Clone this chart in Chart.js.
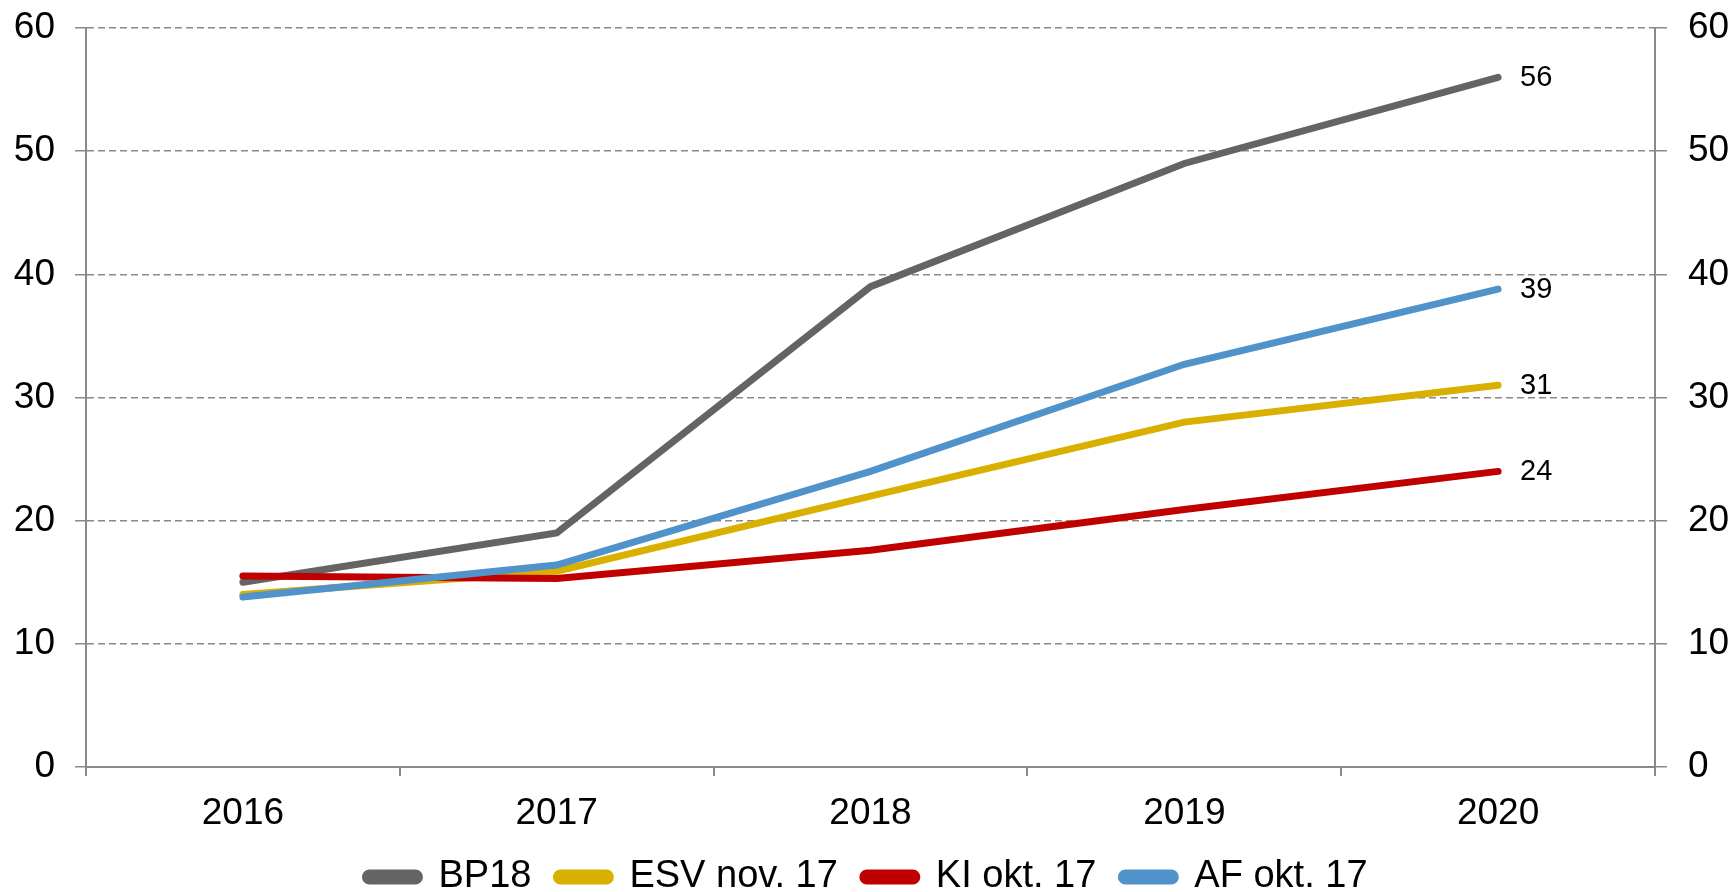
<!DOCTYPE html>
<html>
<head>
<meta charset="utf-8">
<script src="https://cdn.jsdelivr.net/npm/chart.js@4/dist/chart.umd.min.js"></script>
<style>
  body { margin: 0; background: #fff; }
</style>
</head>
<body>
<canvas id="chart-line" width="1733" height="892"></canvas>
<script>
// data
const years = ['2016', '2017', '2018', '2019', '2020'];
const bp18 = [15.0, 19.0, 39.0, 49.0, 56.0];
const esvNov17 = [14.0, 15.9, 22.0, 28.0, 31.0];
const kiOkt17 = [15.5, 15.3, 17.6, 20.9, 24.0];
const afOkt17 = [13.8, 16.4, 24.0, 32.7, 38.8];
const yTicks = [0, 10, 20, 30, 40, 50, 60];

const FONT = '"Liberation Sans", Arial, sans-serif';
const AXIS_GREY = '#898989';

function series(label, data, color, order) {
  return {
    label: label,
    data: data,
    borderColor: color,
    backgroundColor: color,
    borderWidth: 7,
    borderCapStyle: 'round',
    pointRadius: 0,
    tension: 0,
    fill: false,
    order: order,
  };
}

// value labels after the last point of each line
const endLabels = {
  id: 'endLabels',
  afterDatasetsDraw(chart) {
    const ctx = chart.ctx;
    ctx.save();
    ctx.font = '29px ' + FONT;
    ctx.fillStyle = '#000';
    ctx.textBaseline = 'middle';
    chart.data.datasets.forEach((ds, i) => {
      const meta = chart.getDatasetMeta(i);
      const pt = meta.data[meta.data.length - 1];
      ctx.fillText(String(Math.round(ds.data[ds.data.length - 1])), pt.x + 22, pt.y + 1);
    });
    ctx.restore();
  }
};

// y axes: fixed width, no extra room for the end labels
function fitY(width) {
  return function (scale) {
    scale.width = width;
    scale.paddingTop = 0;
    scale.paddingBottom = 0;
  };
}

const ctx = document.getElementById('chart-line').getContext('2d');
const chart = new Chart(ctx, {
  type: 'line',
  data: {
    labels: years,
    datasets: [
      series('BP18', bp18, '#646464', 3),
      series('ESV nov. 17', esvNov17, '#D9B000', 2),
      series('KI okt. 17', kiOkt17, '#C00000', 1),
      series('AF okt. 17', afOkt17, '#5093CA', 0),
    ],
  },
  plugins: [endLabels],
  options: {
    responsive: false,
    maintainAspectRatio: false,
    animation: false,
    layout: {
      padding: { top: 28, left: 0, right: 0, bottom: -14 },
    },
    plugins: {
      tooltip: { enabled: false },
      legend: {
        display: true,
        position: 'bottom',
        labels: {
          boxWidth: 54,
          boxHeight: 8,
          useBorderRadius: true,
          borderRadius: 4,
          padding: 25,
          color: '#000',
          font: { family: FONT, size: 38 },
          sort: (a, b) => a.datasetIndex - b.datasetIndex,
        },
      },
    },
    scales: {
      x: {
        offset: true,
        afterFit(scale) { scale.height = 66; },
        grid: {
          offset: true,
          drawOnChartArea: false,
          drawTicks: true,
          tickLength: 9,
          color: AXIS_GREY,
          lineWidth: 2,
        },
        border: { display: true, color: AXIS_GREY, width: 2 },
        ticks: {
          color: '#000',
          padding: 16,
          maxRotation: 0,
          font: { family: FONT, size: 37 },
        },
      },
      y: {
        position: 'left',
        min: 0,
        max: 60,
        afterFit: fitY(86),
        afterBuildTicks(scale) { scale.ticks = yTicks.map(v => ({ value: v })); },
        grid: {
          drawOnChartArea: true,
          drawTicks: true,
          tickLength: 11,
          color: AXIS_GREY,
          lineWidth: 1.5,
        },
        border: { display: true, color: AXIS_GREY, width: 2, dash: [7, 4] },
        ticks: {
          color: '#000',
          padding: 20,
          font: { family: FONT, size: 37 },
        },
      },
      y2: {
        position: 'right',
        min: 0,
        max: 60,
        afterFit: fitY(78),
        afterBuildTicks(scale) { scale.ticks = yTicks.map(v => ({ value: v })); },
        grid: {
          drawOnChartArea: false,
          drawTicks: true,
          tickLength: 12,
          color: AXIS_GREY,
          lineWidth: 1.5,
        },
        border: { display: true, color: AXIS_GREY, width: 2 },
        ticks: {
          color: '#000',
          padding: 21,
          font: { family: FONT, size: 37 },
        },
      },
    },
  },
});
</script>
</body>
</html>
